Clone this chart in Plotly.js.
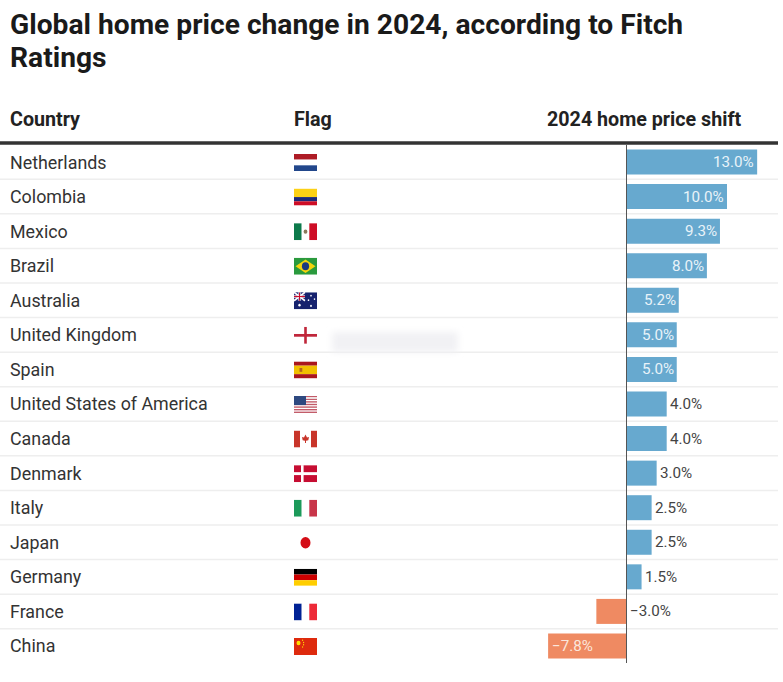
<!DOCTYPE html>
<html><head><meta charset="utf-8">
<script src="https://cdn.plot.ly/plotly-3.0.1.min.js"></script>
<style>html,body{margin:0;padding:0;background:#fff;overflow:hidden}#c{width:783px;height:682px}</style>
</head><body><div id="c"></div>
<script>
const countries = ["Netherlands","Colombia","Mexico","Brazil","Australia","United Kingdom","Spain","United States of America","Canada","Denmark","Italy","Japan","Germany","France","China"];
const shifts = [13.0,10.0,9.3,8.0,5.2,5.0,5.0,4.0,4.0,3.0,2.5,2.5,1.5,-3.0,-7.8];
const shiftLabels = ["13.0%","10.0%","9.3%","8.0%","5.2%","5.0%","5.0%","4.0%","4.0%","3.0%","2.5%","2.5%","1.5%","−3.0%","−7.8%"];
const headers = ["Country","Flag","2024 home price shift"];
const titleLines = ["Global home price change in 2024, according to Fitch","Ratings"];

const W=783,H=682,FONT='Roboto, Arial, sans-serif';
const ROW0=162,ROWH=34.57,ZERO=626.5,PXU=10.05;
const rowOf=px=>(px-ROW0)/ROWH;
const xOf=px=>(px-ZERO)/PXU;

const r=(x,y,w,h,c)=>`<rect x="${x}" y="${y}" width="${w}" height="${h}" fill="${c}"/>`;
const flags=[
 r(0,0,23,5,'#ae1c28')+r(0,5,23,5,'#fff')+r(0,10,23,5,'#21468b'),
 r(0,0,23,7.5,'#fcd116')+r(0,7.5,23,3.75,'#1a2a7a')+r(0,11.25,23,3.75,'#ce1126'),
 r(0,0,7.7,15,'#0f7a4c')+r(7.7,0,7.6,15,'#fff')+r(15.3,0,7.7,15,'#ce1126')+'<circle cx="11.5" cy="7.5" r="1.9" fill="#8a7a5a"/>',
 r(0,0,23,15,'#2a9a3c')+'<polygon points="11.5,1.5 21.5,7.5 11.5,13.5 1.5,7.5" fill="#f4d50c"/><circle cx="11.5" cy="7.5" r="3.6" fill="#1d3a80"/>',
 r(0,0,23,15,'#14206e')+r(0,0,11,7.5,'#2a2f78')+'<path d="M0 0L11 7.5M11 0L0 7.5" stroke="#fff" stroke-width="1.5"/>'+r(4.4,0,2.2,7.5,'#fff')+r(0,2.7,11,2.1,'#fff')+r(5,0,1,7.5,'#c8102e')+r(0,3.2,11,1.1,'#c8102e')+'<circle cx="5.5" cy="11.4" r="1.2" fill="#fff"/><circle cx="17" cy="3" r=".8" fill="#fff"/><circle cx="20.5" cy="6" r=".8" fill="#fff"/><circle cx="14.5" cy="7" r=".8" fill="#fff"/><circle cx="17" cy="12" r=".9" fill="#fff"/>',
 r(0,0,23,15,'#fff')+r(0,6.3,23,2.4,'#c0273a')+r(10.2,0,2.6,15,'#c0273a'),
 r(0,0,23,3.75,'#aa151b')+r(0,3.75,23,7.5,'#f1bf00')+r(0,11.25,23,3.75,'#aa151b')+r(5.5,5.8,2.8,3.4,'#b5651d'),
 [0,2.3,4.6,6.9,9.2,11.5,13.8].map(y=>r(0,y,23,1.2,'#c25a68')).join('')+r(0,1.2,23,1.1,'#f3f0f0')+r(0,0,12,8,'#2f4a80'),
 r(0,0,6,15,'#c8352b')+r(6,0,11,15,'#fff')+r(17,0,6,15,'#c8352b')+'<polygon points="11.5,3.5 13,6.2 15,5.6 14.3,8.6 12,9 12,11 11,11 11,9 8.7,8.6 8,5.6 10,6.2" fill="#c8352b"/>',
 r(0,0,23,15,'#c60c30')+r(7,0,2.6,15,'#fff')+r(0,6.2,23,2.6,'#fff'),
 r(0,0,7.7,15,'#1a9a5a')+r(7.7,0,7.6,15,'#fff')+r(15.3,0,7.7,15,'#c8354a'),
 r(0,0,23,15,'#fff')+'<circle cx="11.5" cy="7.5" r="5" fill="#d40b12"/>',
 r(0,0,23,5,'#000')+r(0,5,23,5,'#cc0000')+r(0,10,23,5,'#ffce00'),
 r(0,0,7.7,15,'#002395')+r(7.7,0,7.6,15,'#fff')+r(15.3,0,7.7,15,'#ed2939'),
 r(0,0,23,15,'#de2910')+'<circle cx="4.5" cy="4.5" r="2" fill="#ffde00"/><circle cx="8.6" cy="2" r=".6" fill="#ffde00"/><circle cx="9.6" cy="4" r=".6" fill="#ffde00"/><circle cx="9.6" cy="6" r=".6" fill="#ffde00"/><circle cx="8.6" cy="8" r=".6" fill="#ffde00"/>'
];
const svgUri=(inner,w,h)=>'data:image/svg+xml;charset=utf-8,'+encodeURIComponent(
 `<svg xmlns="http://www.w3.org/2000/svg" width="${w}" height="${h}" viewBox="0 0 ${w} ${h}" preserveAspectRatio="none"><defs><filter id="b" x="-10%" y="-10%" width="120%" height="120%"><feGaussianBlur stdDeviation="0.35"/></filter></defs><g filter="url(#b)">${inner}</g></svg>`);

const images=flags.map((f,i)=>({source:svgUri(f,23,15),xref:'x',yref:'y',x:xOf(305.5),y:rowOf(ROW0+0.5+i*ROWH),sizex:23/PXU,sizey:17/ROWH,
  xanchor:'center',yanchor:'middle',sizing:'stretch',layer:'above'}));
// blurred smudge beside the United Kingdom flag in the source picture
images.push({source:'data:image/svg+xml;charset=utf-8,'+encodeURIComponent(
 `<svg xmlns="http://www.w3.org/2000/svg" width="160" height="44" viewBox="0 0 160 44"><defs><filter id="s" x="-10%" y="-30%" width="120%" height="160%"><feGaussianBlur stdDeviation="3.5"/></filter></defs><g filter="url(#s)" fill="#f1f1f4"><rect x="12" y="12" width="126" height="20"/></g></svg>`),
 xref:'x',yref:'y',x:xOf(320),y:rowOf(320),sizex:160/PXU,sizey:44/ROWH,xanchor:'left',yanchor:'top',sizing:'stretch',layer:'below'});

const ann=[];
const addText=(text,x,y,anchor,size,color,xshift,yshift)=>ann.push({text,x,y,xref:'x',yref:'y',xanchor:anchor,yanchor:'middle',
  showarrow:false,align:anchor,xshift:xshift||0,yshift:yshift||0,font:{family:FONT,size,color}});
addText('<b>'+titleLines[1]+'</b>',xOf(10),rowOf(57),'left',28.2,'#1a1a1a',-2);
addText('<b>'+headers[0]+'</b>',xOf(10),rowOf(119),'left',19.7,'#222',-2);
addText('<b>'+headers[1]+'</b>',xOf(294),rowOf(119),'left',19.7,'#222',-2);
addText('<b>'+headers[2]+'</b>',xOf(741),rowOf(119),'right',19.7,'#222',2);
countries.forEach((c,i)=>addText(c,xOf(10),i,'left',17.85,'#333',-2,0));
shifts.forEach((v,i)=>{
  const inside=Math.abs(v)>=5;
  if(inside&&v>0) addText(shiftLabels[i],v,i,'right',15.2,'#e9f3f9',-1);
  else if(inside) addText(shiftLabels[i],v,i,'left',15.2,'#fbe6dc',2);
  else addText(shiftLabels[i],Math.max(v,0),i,'left',15.2,'#444',1);
});

const shapes=[];
countries.slice(0,-1).forEach((_,i)=>shapes.push({type:'line',xref:'x',yref:'y',x0:xOf(0),x1:xOf(778),y0:i+0.5,y1:i+0.5,line:{color:'#eeeeee',width:1.5},layer:'below'}));
shapes.push({type:'line',xref:'x',yref:'y',x0:xOf(0),x1:xOf(778),y0:rowOf(143),y1:rowOf(143),line:{color:'#333333',width:3.4}});
shapes.push({type:'line',xref:'x',yref:'y',x0:0,x1:0,y0:rowOf(145),y1:rowOf(663),line:{color:'#555555',width:1}});

Plotly.newPlot('c',[{
  type:'bar',orientation:'h',x:shifts,y:countries.map((_,i)=>i),width:25/ROWH,
  marker:{color:shifts.map(v=>v>=0?'#67a9cf':'#ef8a62'),line:{width:0}},hoverinfo:'skip',cliponaxis:false
}],{
  width:W,height:H,margin:{l:0,r:0,t:0,b:0},paper_bgcolor:'#fff',plot_bgcolor:'#fff',showlegend:false,
  title:{text:'<b>'+titleLines[0]+'</b>',x:10/W,xanchor:'left',xref:'paper',y:1-24/H,yref:'paper',yanchor:'middle',
         font:{family:FONT,size:28.2,color:'#1a1a1a'},automargin:false},
  xaxis:{range:[xOf(0),xOf(W)],visible:false,fixedrange:true},
  yaxis:{range:[rowOf(H),rowOf(0)],visible:false,fixedrange:true},
  annotations:ann,shapes,images
},{displayModeBar:false,staticPlot:true});
</script></body></html>
